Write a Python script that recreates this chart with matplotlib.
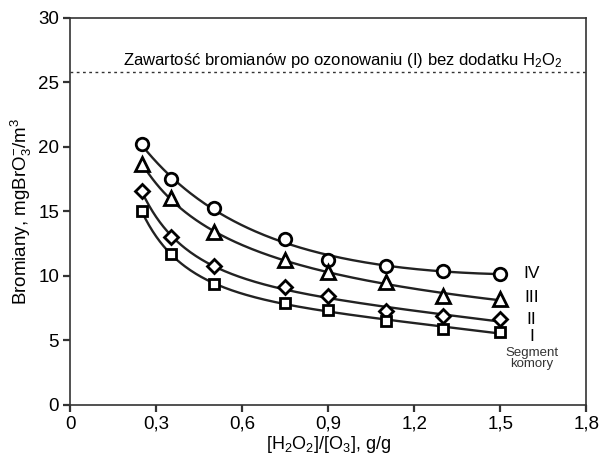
import numpy as np
import matplotlib
matplotlib.use("Agg")
import matplotlib.pyplot as plt

plt.rcParams['font.family'] = ['Liberation Sans', 'DejaVu Sans']
plt.rcParams['mathtext.fontset'] = 'custom'
plt.rcParams['mathtext.rm'] = 'Liberation Sans'
plt.rcParams['mathtext.it'] = 'Liberation Sans:italic'

# dane
x = np.array([0.25, 0.35, 0.5, 0.75, 0.9, 1.1, 1.3, 1.5])
seg_IV = [20.2, 17.5, 15.3, 12.85, 11.25, 10.8, 10.4, 10.15]
seg_III = [18.7, 16.0, 13.4, 11.2, 10.3, 9.5, 8.45, 8.2]
seg_II = [16.6, 13.0, 10.8, 9.1, 8.45, 7.3, 6.85, 6.65]
seg_I = [15.0, 11.7, 9.35, 7.93, 7.36, 6.5, 5.87, 5.68]
bez_h2o2 = 25.8

serie = [(seg_IV, 'o', 9, 'IV', 10.2),
         (seg_III, '^', 9.5, 'III', 8.3),
         (seg_II, 'D', 7, 'II', 6.6),
         (seg_I, 's', 7.5, 'I', 5.3)]

fig = plt.figure(figsize=(6, 4.59), dpi=100)
ax = fig.add_axes([0.117, 0.118, 0.86, 0.843])

xs = np.linspace(x[0], x[-1], 200)
for y, m, ms, nazwa, ypos in serie:
    # krzywa dopasowania w log(x)
    wsp = np.polyfit(np.log(x), y, 3)
    ax.plot(xs, np.polyval(wsp, np.log(xs)), color='#222222', lw=1.7, zorder=2)
    ax.plot(x, y, m, ms=ms, mfc='white', mec='black', mew=2.0, ls='none', zorder=3)
    ax.text(1.61, ypos, nazwa, ha='center', va='center', fontsize=12.5)

ax.text(1.61, 3.6, 'Segment\nkomory', ha='center', va='center', fontsize=9.5,
        linespacing=0.95, color='#333333')

ax.axhline(bez_h2o2, color='#333333', ls=(0, (2, 2.5)), lw=1.0)
ax.text(0.95, 26.7, 'Zawartość bromianów po ozonowaniu (I) bez dodatku H$_2$O$_2$',
        ha='center', va='center', fontsize=12)

ax.set_xlim(0, 1.8)
ax.set_ylim(0, 30)
xt = [0, 0.3, 0.6, 0.9, 1.2, 1.5, 1.8]
ax.set_xticks(xt)
ax.set_xticklabels(['0', '0,3', '0,6', '0,9', '1,2', '1,5', '1,8'])
ax.set_yticks(range(0, 31, 5))
ax.tick_params(labelsize=13.5, width=1.6, length=5, color='#333333', pad=3)
for s in ax.spines.values():
    s.set_linewidth(1.2)
    s.set_color('#333333')

ax.set_xlabel('[H$_2$O$_2$]/[O$_3$], g/g', fontsize=13, labelpad=1)
ax.set_ylabel('Bromiany, mgBrO$_3^{-}$/m$^3$', fontsize=13.5, labelpad=3)

fig.savefig('out.png', dpi=100)
